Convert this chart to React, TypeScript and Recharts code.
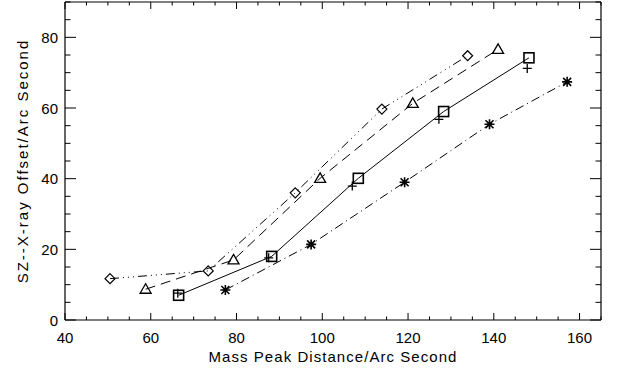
import React from "react";
import { Scatter, ScatterChart, XAxis, YAxis } from "recharts";

// values
const diamondX = [50.5, 73.4, 93.7, 113.9, 133.9];
const diamondY = [11.7, 13.9, 36.0, 59.7, 74.8];
const triangleX = [58.8, 79.3, 99.5, 121.1, 141.0];
const triangleY = [8.7, 17.0, 40.1, 61.3, 76.6];
const squareX = [66.5, 88.2, 108.4, 128.3, 148.2];
const squareY = [7.0, 18.0, 40.1, 59.0, 74.2];
const plusX = [66.3, 87.5, 107.0, 127.2, 147.8];
const plusY = [7.6, 17.6, 37.9, 56.8, 71.2];
const starX = [77.4, 97.4, 119.2, 139.0, 157.1];
const starY = [8.5, 21.4, 39.0, 55.4, 67.4];

const xTicks = [40, 45, 50, 55, 60, 65, 70, 75, 80, 85, 90, 95, 100, 105, 110, 115, 120, 125, 130, 135, 140, 145, 150, 155, 160, 165];
const xMajor = [40, 60, 80, 100, 120, 140, 160];
const yTicks = [0, 5, 10, 15, 20, 25, 30, 35, 40, 45, 50, 55, 60, 65, 70, 75, 80, 85, 90];
const yMajor = [0, 20, 40, 60, 80];

const xTitle = "Mass Peak Distance/Arc Second";
const yTitle = "SZ--X-ray Offset/Arc Second";

const toPoints = (xs: number[], ys: number[]) => xs.map((x, i) => ({ x, y: ys[i] }));

const FONT = "'Liberation Sans', Arial, sans-serif";
const INK = "#000";

const Diamond = ({ cx, cy }: any) => (
  <polygon
    points={`${cx},${cy - 5} ${cx + 5},${cy} ${cx},${cy + 5} ${cx - 5},${cy}`}
    fill="none"
    stroke={INK}
    strokeWidth={1.2}
  />
);

const Triangle = ({ cx, cy }: any) => (
  <polygon
    points={`${cx},${cy - 5.5} ${cx + 5.5},${cy + 4} ${cx - 5.5},${cy + 4}`}
    fill="none"
    stroke={INK}
    strokeWidth={1.3}
  />
);

const Square = ({ cx, cy }: any) => (
  <rect x={cx - 5} y={cy - 5} width={10} height={10} fill="none" stroke={INK} strokeWidth={1.6} />
);

const Plus = ({ cx, cy }: any) => (
  <path d={`M${cx - 4.5},${cy}H${cx + 4.5}M${cx},${cy - 4.5}V${cy + 4.5}`} stroke={INK} strokeWidth={1.3} />
);

const Star = ({ cx, cy }: any) => (
  <path
    d={`M${cx - 5},${cy}H${cx + 5}M${cx},${cy - 5}V${cy + 5}M${cx - 4},${cy - 4}L${cx + 4},${cy + 4}M${cx - 4},${cy + 4}L${cx + 4},${cy - 4}`}
    stroke={INK}
    strokeWidth={1.6}
  />
);

// IDL-style inward ticks: x ticks are short, y ticks longer
const BottomTick = ({ x, y, payload }: any) => {
  const major = xMajor.includes(payload.value);
  return (
    <g>
      <line x1={x} x2={x} y1={y} y2={y - (major ? 7 : 3.5)} stroke={INK} />
      {major && (
        <text x={x} y={y + 23} textAnchor="middle" fontSize={15} fontFamily={FONT} fill={INK}>
          {payload.value}
        </text>
      )}
    </g>
  );
};

const TopTick = ({ x, y, payload }: any) => {
  const major = xMajor.includes(payload.value);
  return <line x1={x} x2={x} y1={y} y2={y + (major ? 7 : 3.5)} stroke={INK} />;
};

const LeftTick = ({ x, y, payload }: any) => {
  const major = yMajor.includes(payload.value);
  return (
    <g>
      <line x1={x} x2={x + (major ? 11 : 5.5)} y1={y} y2={y} stroke={INK} />
      {major && (
        <text x={x - 7} y={y + 5.5} textAnchor="end" fontSize={15} fontFamily={FONT} fill={INK}>
          {payload.value}
        </text>
      )}
    </g>
  );
};

const RightTick = ({ x, y, payload }: any) => {
  const major = yMajor.includes(payload.value);
  return <line x1={x} x2={x - (major ? 11 : 5.5)} y1={y} y2={y} stroke={INK} />;
};

const XTitle = ({ viewBox }: any) => (
  <text
    x={viewBox.x + viewBox.width / 2}
    y={viewBox.y + 42}
    textAnchor="middle"
    fontSize={15}
    letterSpacing={1.05}
    fontFamily={FONT}
    fill={INK}
  >
    {xTitle}
  </text>
);

const YTitle = ({ viewBox }: any) => {
  const cx = viewBox.x + 22.5;
  const cy = viewBox.y + viewBox.height / 2;
  return (
    <text
      x={cx}
      y={cy}
      transform={`rotate(-90 ${cx} ${cy})`}
      textAnchor="middle"
      dominantBaseline="central"
      fontSize={15}
      letterSpacing={2}
      fontFamily={FONT}
      fill={INK}
    >
      {yTitle}
    </text>
  );
};

const axisLine = { stroke: INK, strokeWidth: 1.2 };

export default function App() {
  return (
    <div style={{ position: "absolute", left: 0, top: 0, background: "#fff" }}>
      <ScatterChart width={617} height={372} margin={{ top: 1, right: 15, bottom: 0, left: 0 }}>
        <XAxis
          dataKey="x"
          type="number"
          domain={[40, 165]}
          ticks={xTicks}
          interval={0}
          height={52}
          tickSize={0}
          tickMargin={0}
          tickLine={false}
          axisLine={axisLine}
          tick={<BottomTick />}
          label={<XTitle />}
        />
        <XAxis
          xAxisId="top"
          orientation="top"
          dataKey="x"
          type="number"
          domain={[40, 165]}
          ticks={xTicks}
          interval={0}
          height={1}
          tickSize={0}
          tickMargin={0}
          tickLine={false}
          axisLine={axisLine}
          tick={<TopTick />}
        />
        <YAxis
          dataKey="y"
          type="number"
          domain={[0, 90]}
          ticks={yTicks}
          interval={0}
          width={65}
          tickSize={0}
          tickMargin={0}
          tickLine={false}
          axisLine={axisLine}
          tick={<LeftTick />}
          label={<YTitle />}
        />
        <YAxis
          yAxisId="right"
          orientation="right"
          dataKey="y"
          type="number"
          domain={[0, 90]}
          ticks={yTicks}
          interval={0}
          width={1}
          tickSize={0}
          tickMargin={0}
          tickLine={false}
          axisLine={axisLine}
          tick={<RightTick />}
        />
        <Scatter
          data={toPoints(diamondX, diamondY)}
          fill={INK}
          line={{ stroke: INK, strokeWidth: 1, strokeDasharray: "9 4 1 4 1 4 1 4" }}
          lineType="joint"
          shape={<Diamond />}
          isAnimationActive={false}
        />
        <Scatter
          data={toPoints(triangleX, triangleY)}
          fill={INK}
          line={{ stroke: INK, strokeWidth: 1, strokeDasharray: "10 6" }}
          lineType="joint"
          shape={<Triangle />}
          isAnimationActive={false}
        />
        <Scatter
          data={toPoints(squareX, squareY)}
          fill={INK}
          line={{ stroke: INK, strokeWidth: 1 }}
          lineType="joint"
          shape={<Square />}
          isAnimationActive={false}
        />
        <Scatter
          data={toPoints(plusX, plusY)}
          xAxisId="top"
          yAxisId="right"
          fill={INK}
          shape={<Plus />}
          isAnimationActive={false}
        />
        <Scatter
          data={toPoints(starX, starY)}
          fill={INK}
          line={{ stroke: INK, strokeWidth: 1, strokeDasharray: "9 4 1 4" }}
          lineType="joint"
          shape={<Star />}
          isAnimationActive={false}
        />
      </ScatterChart>
    </div>
  );
}
